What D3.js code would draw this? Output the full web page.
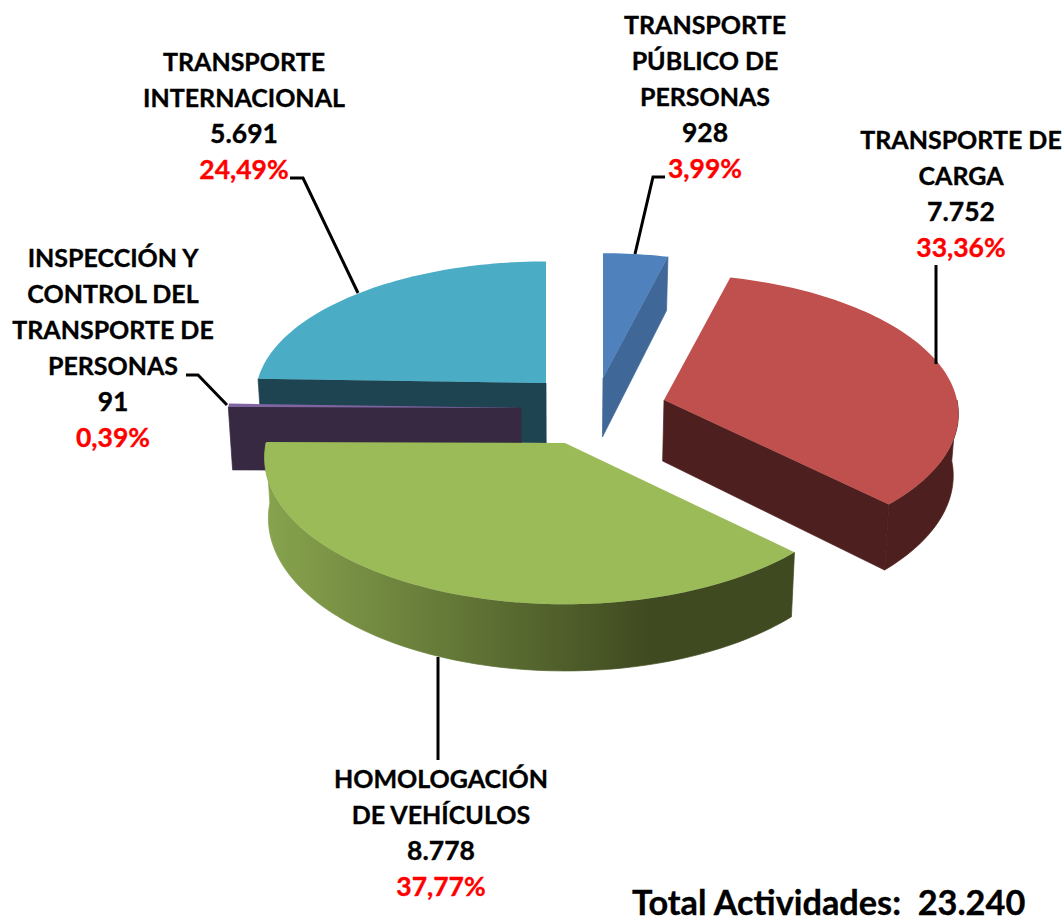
<!DOCTYPE html>
<html>
<head>
<meta charset="utf-8">
<script src="https://cdn.jsdelivr.net/npm/d3@7"></script>
<style>
  html, body { margin: 0; padding: 0; background: #fff; }
  text { font-family: Lato, "Open Sans", sans-serif; font-weight: 700; white-space: pre; }
</style>
</head>
<body>
<svg id="chart"></svg>
<script>
// data, in the order the slices run clockwise from 12 o'clock
const categories = [
  ["TRANSPORTE", "PÚBLICO DE", "PERSONAS"],
  ["TRANSPORTE DE", "CARGA"],
  ["HOMOLOGACIÓN", "DE VEHÍCULOS"],
  ["INSPECCIÓN Y", "CONTROL DEL", "TRANSPORTE DE", "PERSONAS"],
  ["TRANSPORTE", "INTERNACIONAL"]
];
const values = [928, 7752, 8778, 91, 5691];
const totalLabel = "Total Actividades:  ";

// styles per slice
const topColors = ["#4f81bd", "#c0504d", "#9bbb59", "#8064a2", "#4bacc6"];
const wallColors = ["#3f6797", "#4d1f1e", "#3f4a20", "#372942", "#1d4450"];

// layout per slice: where the tip of each exploded slice lands and how far back it sits
const tips = [[603, 378], [664, 400], [565, 443], [521, 408], [546, 383]];
const depthScaleX = [0.95, 0.97, 0.99, 0.97, 0.957];
const depthScaleY = [0.96, 0.97, 1.015, 0.97, 0.935];
const wallHeights = [59, 61, 60, 63, 60];
const labelX = [705, 961, 441, 113, 244];
const labelTop = [25, 140, 779, 258, 62];
const labelStep = 36;
const leaders = [
  [[635, 254], [653, 177], [665, 177]],
  [[936, 364], [936, 265]],
  [[438, 657], [438, 760]],
  [[227, 405], [198, 375], [186, 375]],
  [[358, 293], [303, 178], [290, 178]]
];
const drawOrder = [0, 4, 3, 1, 2]; // back to front

const width = 1064, height = 922;
const perspective = 0.1;
const bottomShrink = 0.987, vanishX = 560;

const svg = d3.select("#chart").attr("width", width).attr("height", height)
  .style("display", "block");

const es = d3.formatLocale({ decimal: ",", thousands: ".", grouping: [3], currency: ["", ""] });
const fmtValue = es.format(",d");
const fmtPct = es.format(".2f");
const total = d3.sum(values);

const pie = d3.pie().sort(null).startAngle(0).endAngle(2 * Math.PI)(values);

// unit circle -> screen offset from the slice tip
const xScale = d3.scaleLinear().domain([-1, 1]).range([-302, 302]);
const yScale = d3.scaleLinear().domain([-1, 1]).range([-143, 143]);

// returns [x, y, s], s being the perspective factor at that point
function project(i, angle) {
  const u = Math.sin(angle), v = -Math.cos(angle);
  const s = 1 / (1 - perspective * v);
  return [tips[i][0] + xScale(u) * s * depthScaleX[i], tips[i][1] + yScale(v) * s * depthScaleY[i], s];
}

// same point on the underside of the slice
function drop(i, p, s) {
  return [vanishX + (p[0] - vanishX) * bottomShrink, p[1] + wallHeights[i] * s];
}

const line = d3.line();
function arcPoints(i, a0, a1) {
  const n = Math.max(2, Math.ceil((a1 - a0) * 40));
  return d3.range(n + 1).map(k => project(i, a0 + (a1 - a0) * k / n));
}

// gradient on the outer wall of the green slice
const grad = svg.append("defs").append("linearGradient")
  .attr("id", "greenWall")
  .attr("gradientUnits", "userSpaceOnUse")
  .attr("x1", 263).attr("x2", 650).attr("y1", 0).attr("y2", 0);
grad.append("stop").attr("offset", 0).attr("stop-color", "#88a44e");
grad.append("stop").attr("offset", 1).attr("stop-color", "#3f4a20");

const chart = svg.append("g");

function addWall(points, fill) {
  chart.append("path")
    .attr("d", line(points) + "Z")
    .attr("fill", fill)
    .attr("stroke", fill)
    .attr("stroke-width", 0.7)
    .attr("stroke-linejoin", "round");
}

function flatWall(i, angle, fill) {
  const p = project(i, angle);
  const a = [tips[i][0], tips[i][1]];
  addWall([a, p.slice(0, 2), drop(i, p, p[2]), drop(i, a, 1)], fill);
}

drawOrder.forEach(i => {
  const d = pie[i];
  const wall = wallColors[i];

  // only the radial walls that face the viewer
  if (d.endAngle < Math.PI) flatWall(i, d.endAngle, wall);
  if (d.startAngle > Math.PI) flatWall(i, d.startAngle, wall);

  // outer rim, front half only
  const a0 = Math.max(d.startAngle, Math.PI / 2);
  const a1 = Math.min(d.endAngle, 3 * Math.PI / 2);
  if (a1 > a0) {
    const rim = arcPoints(i, a0, a1);
    const under = rim.map(p => drop(i, p, p[2])).reverse();
    addWall(rim.map(p => p.slice(0, 2)).concat(under), i === 2 ? "url(#greenWall)" : wall);
  }

  // top face
  const top = [tips[i]].concat(arcPoints(i, d.startAngle, d.endAngle).map(p => p.slice(0, 2)));
  chart.append("path")
    .attr("d", line(top) + "Z")
    .attr("fill", topColors[i]);
});

// leader lines
svg.append("g").selectAll("path").data(leaders).join("path")
  .attr("d", d => line(d))
  .attr("fill", "none")
  .attr("stroke", "#000")
  .attr("stroke-width", 3);

// labels: category lines, value, percent in red
const labels = svg.append("g").attr("text-anchor", "middle");
categories.forEach((cat, i) => {
  const rows = cat.map(t => ({ t, c: "#000", size: 25 }));
  rows.push({ t: fmtValue(values[i]), c: "#000", size: 26.5 });
  rows.push({ t: fmtPct(values[i] / total * 100) + "%", c: "#ff0000", size: 26.5 });
  rows.forEach((r, k) => {
    labels.append("text")
      .attr("x", labelX[i])
      .attr("y", labelTop[i] + k * labelStep + 9)
      .attr("font-size", r.size)
      .attr("fill", r.c)
      .attr("stroke", r.c)
      .attr("stroke-width", 0.35)
      .text(r.t);
  });
});

svg.append("text")
  .attr("x", 632).attr("y", 915)
  .attr("font-size", 34.3)
  .attr("fill", "#000")
  .attr("stroke", "#000")
  .attr("stroke-width", 0.35)
  .text(totalLabel + fmtValue(total));
</script>
</body>
</html>
